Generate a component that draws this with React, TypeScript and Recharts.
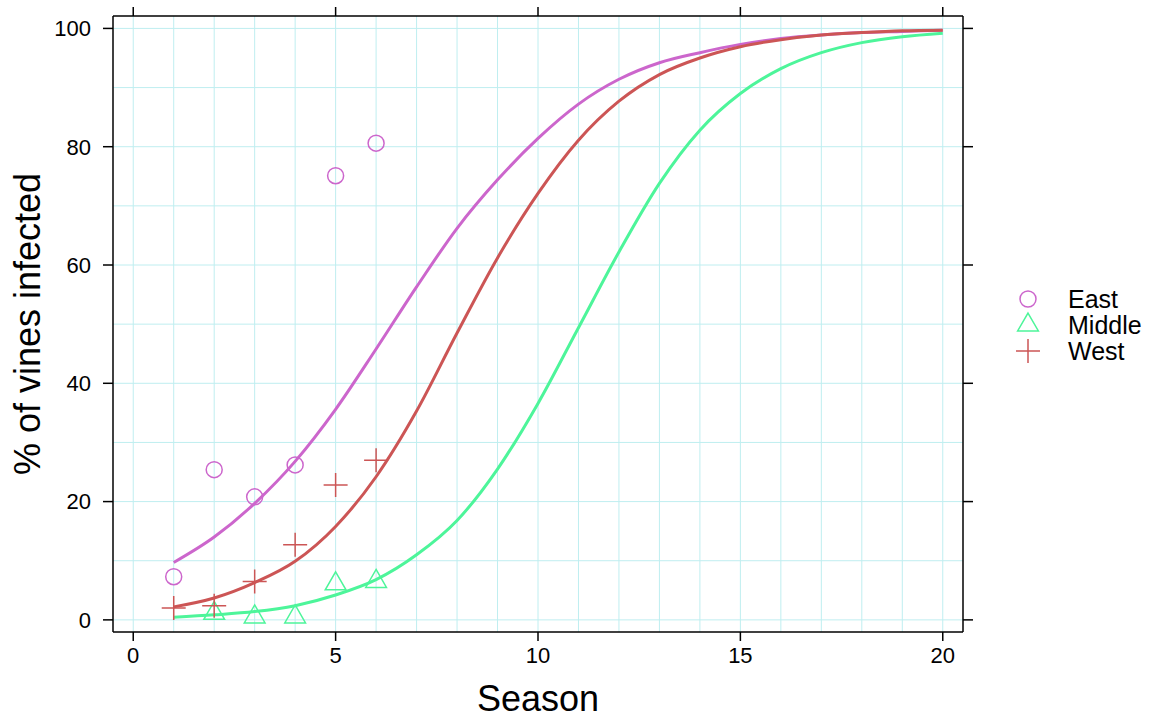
import { ComposedChart, Line, Scatter, XAxis, YAxis, ReferenceLine } from 'recharts'

// fitted curves, read at every season
const seasons = [1, 2, 3, 4, 5, 6, 7, 8, 9, 10, 11, 12, 13, 14, 15, 16, 17, 18, 19, 20]
const eastFit = [9.7, 14.0, 19.7, 26.8, 35.6, 45.8, 56.3, 66.2, 74.4, 81.4, 87.2, 91.4, 94.2, 95.9, 97.3, 98.3, 98.9, 99.3, 99.5, 99.7]
const middleFit = [0.45, 0.85, 1.4, 2.4, 4.2, 6.8, 11.0, 16.8, 25.5, 36.6, 49.4, 62.2, 73.8, 82.8, 89.0, 93.2, 95.9, 97.6, 98.6, 99.2]
const westFit = [2.2, 3.7, 6.3, 9.9, 15.8, 24.2, 35.3, 48.5, 61.2, 72.1, 81.1, 87.7, 92.2, 95.0, 96.9, 98.1, 98.9, 99.3, 99.6, 99.7]

// observed points
const eastSeasons = [1, 2, 3, 4, 5, 6]
const eastObs = [7.3, 25.4, 20.8, 26.2, 75.1, 80.6]
const middleSeasons = [2, 3, 4, 5, 6]
const middleObs = [1.1, 0.5, 0.5, 6.1, 6.5]
const westSeasons = [1, 2, 3, 4, 5, 6]
const westObs = [2.0, 2.4, 6.5, 12.7, 22.8, 27.0]

const xTicks = [0, 5, 10, 15, 20]
const yTicks = [0, 20, 40, 60, 80, 100]
const xGrid = [0, 1, 2, 3, 4, 5, 6, 7, 8, 9, 10, 11, 12, 13, 14, 15, 16, 17, 18, 19, 20]
const yGrid = [0, 10, 20, 30, 40, 50, 60, 70, 80, 90, 100]

const EAST = '#CC66CC'
const MIDDLE = '#4DF59A'
const WEST = '#CC5555'
const GRID = '#BFEEF0'
const FONT = '"Liberation Sans", Arial, sans-serif'
const FRAME = { stroke: '#000', strokeWidth: 1.5 }

const fitData = seasons.map((s, i) => ({ season: s, east: eastFit[i], middle: middleFit[i], west: westFit[i] }))
const toPts = (xs: number[], ys: number[]) => xs.map((s, i) => ({ season: s, pct: ys[i] }))

const Circle = ({ cx, cy, color }: any) => (
  <circle cx={cx} cy={cy} r={8} fill="none" stroke={color} strokeWidth={1.5} />
)
const Triangle = ({ cx, cy, color }: any) => {
  const s = 7.7
  const pts = `${cx},${cy - 1.555 * s} ${cx + 1.347 * s},${cy + 0.778 * s} ${cx - 1.347 * s},${cy + 0.778 * s}`
  return <polygon points={pts} fill="none" stroke={color} strokeWidth={1.5} />
}
const Plus = ({ cx, cy, color }: any) => (
  <path d={`M${cx - 12},${cy}H${cx + 12}M${cx},${cy - 12}V${cy + 12}`} stroke={color} strokeWidth={1.5} fill="none" />
)

const legendItems = [
  { name: 'East', color: EAST, Shape: Circle },
  { name: 'Middle', color: MIDDLE, Shape: Triangle },
  { name: 'West', color: WEST, Shape: Plus },
]

function KeyBox() {
  return (
    <svg width={150} height={90} style={{ position: 'absolute', left: 1010, top: 282, fontFamily: FONT }}>
      {legendItems.map((it, i) => (
        <g key={it.name}>
          <it.Shape cx={18} cy={17 + i * 26} color={it.color} />
          <text x={58} y={17 + i * 26} dominantBaseline="central" fontSize={25} fill="#000">{it.name}</text>
        </g>
      ))}
    </svg>
  )
}

export default function App() {
  return (
    <div style={{ position: 'absolute', left: 0, top: 0, width: 1155, height: 721, background: '#fff' }}>
      <ComposedChart width={1155} height={721} data={fitData} margin={{ top: 15, right: 191, bottom: 27, left: 53 }} style={{ fontFamily: FONT }}>
        {xGrid.map((v) => (
          <ReferenceLine key={'x' + v} xAxisId="bottom" yAxisId="left" x={v} stroke={GRID} strokeWidth={1} />
        ))}
        {yGrid.map((v) => (
          <ReferenceLine key={'y' + v} xAxisId="bottom" yAxisId="left" y={v} stroke={GRID} strokeWidth={1} />
        ))}
        <XAxis
          xAxisId="bottom"
          type="number"
          dataKey="season"
          domain={[-0.5, 20.5]}
          ticks={xTicks}
          allowDataOverflow
          height={62}
          tickSize={9}
          tickMargin={6}
          axisLine={FRAME}
          tickLine={FRAME}
          tick={{ fill: '#000', fontSize: 22 }}
          label={{
            content: () => (
              <text x={538} y={711} textAnchor="middle" fontSize={36} fill="#000" style={{ fontFamily: FONT }}>Season</text>
            ),
          }}
        />
        <XAxis xAxisId="top" orientation="top" type="number" dataKey="season" domain={[-0.5, 20.5]} ticks={xTicks} allowDataOverflow height={1} tickSize={9} axisLine={FRAME} tickLine={FRAME} tickFormatter={() => ''} />
        <YAxis
          yAxisId="left"
          type="number"
          domain={[-2.05, 102.1]}
          ticks={yTicks}
          allowDataOverflow
          width={60}
          tickSize={10}
          tickMargin={12}
          axisLine={FRAME}
          tickLine={FRAME}
          tick={{ fill: '#000', fontSize: 22 }}
          label={{
            content: () => (
              <text x={40} y={324} transform="rotate(-90 40 324)" textAnchor="middle" fontSize={36} fill="#000" style={{ fontFamily: FONT }}>% of vines infected</text>
            ),
          }}
        />
        <YAxis yAxisId="right" orientation="right" type="number" domain={[-2.05, 102.1]} ticks={yTicks} allowDataOverflow width={1} tickSize={10} axisLine={FRAME} tickLine={FRAME} tickFormatter={() => ''} />
        <Line xAxisId="bottom" yAxisId="left" type="monotone" dataKey="east" stroke={EAST} strokeWidth={3} dot={false} isAnimationActive={false} />
        <Line xAxisId="bottom" yAxisId="left" type="monotone" dataKey="middle" stroke={MIDDLE} strokeWidth={3} dot={false} isAnimationActive={false} />
        <Line xAxisId="bottom" yAxisId="left" type="monotone" dataKey="west" stroke={WEST} strokeWidth={3} dot={false} isAnimationActive={false} />
        {/* binds the top/right frame axes so they render; draws nothing */}
        <Line xAxisId="top" yAxisId="right" dataKey="west" stroke="none" dot={false} legendType="none" isAnimationActive={false} />
        <Scatter xAxisId="bottom" yAxisId="left" data={toPts(eastSeasons, eastObs)} dataKey="pct" isAnimationActive={false} shape={(p: any) => <Circle cx={p.cx} cy={p.cy} color={EAST} />} />
        <Scatter xAxisId="bottom" yAxisId="left" data={toPts(middleSeasons, middleObs)} dataKey="pct" isAnimationActive={false} shape={(p: any) => <Triangle cx={p.cx} cy={p.cy} color={MIDDLE} />} />
        <Scatter xAxisId="bottom" yAxisId="left" data={toPts(westSeasons, westObs)} dataKey="pct" isAnimationActive={false} shape={(p: any) => <Plus cx={p.cx} cy={p.cy} color={WEST} />} />
      </ComposedChart>
      <KeyBox />
    </div>
  )
}
